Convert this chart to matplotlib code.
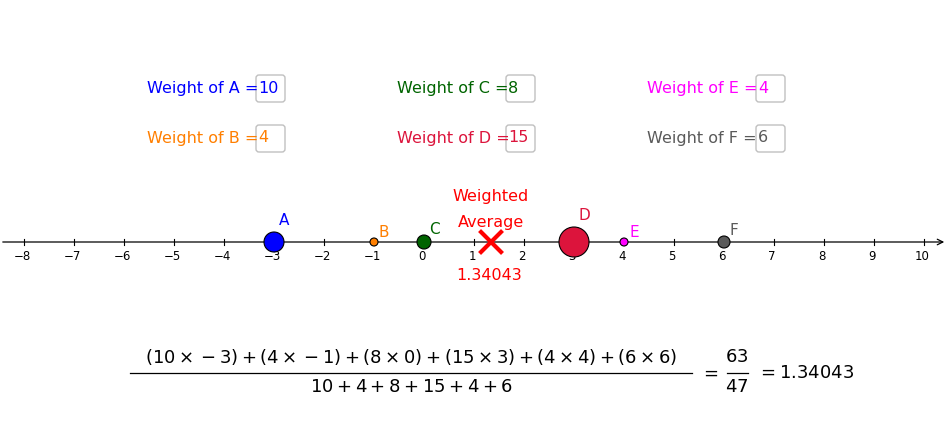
import matplotlib
matplotlib.use("Agg")
import matplotlib.pyplot as plt
from matplotlib.patches import FancyBboxPatch, Circle

names = ["A", "B", "C", "D", "E", "F"]
positions = [-3, -1, 0, 3, 4, 6]
weights = [10, 4, 8, 15, 4, 6]
colors = ["#0000FF", "#FF7F00", "#006400", "#DC143C", "#FF00FF", "#5A5A5A"]
radii = [10, 4, 7, 15, 4, 6]
ticks = list(range(-8, 11))

avg = sum(p * w for p, w in zip(positions, weights)) / sum(weights)

W, H = 950, 425
fig = plt.figure(figsize=(9.5, 4.25), dpi=100)
ax = fig.add_axes([0, 0, 1, 1])
ax.set_xlim(0, W); ax.set_ylim(H, 0); ax.axis("off")
fig.patch.set_facecolor("white")

X0, S, Y = 424, 50, 242
px = lambda v: X0 + S * v

# axis
ax.annotate("", xy=(947, Y), xytext=(0, Y),
            arrowprops=dict(arrowstyle="->", color="black", lw=0.9, mutation_scale=10))
for t in ticks:
    ax.plot([px(t), px(t)], [Y - 3, Y + 3], color="black", lw=0.8)
    lab = str(t).replace("-", "\u2212")
    ax.text(px(t) - 2, Y + 14, lab, ha="center", va="center", fontsize=8.5,
            family="DejaVu Sans", color="black")

# points
for n, p, c, r in zip(names, positions, colors, radii):
    ax.add_patch(Circle((px(p), Y), r, facecolor=c, edgecolor="black", lw=0.8, zorder=5))
    ax.text(px(p) + 10, Y - r - 10 - (6 if r > 8 else 0) + 4, n, ha="center", va="center",
            fontsize=11, color=c, family="DejaVu Sans")

# weighted average
xa = px(avg)
ax.plot([xa - 10, xa + 10], [Y - 10, Y + 10], color="red", lw=3, zorder=6)
ax.plot([xa - 10, xa + 10], [Y + 10, Y - 10], color="red", lw=3, zorder=6)
ax.text(491, 196, "Weighted", color="red", fontsize=11.5, ha="center", va="center")
ax.text(491, 222, "Average", color="red", fontsize=11.5, ha="center", va="center")
ax.text(489, 275, f"{avg:.5f}", color="red", fontsize=11.5, ha="center", va="center")

# weight input boxes
layout = [(147, 88), (147, 138), (397, 88), (397, 138), (647, 88), (647, 138)]
order = [0, 1, 2, 3, 4, 5]
for i, (x, y) in zip(order, layout):
    label = f"Weight of {names[i]} ="
    t = ax.text(x, y, label, color=colors[i], fontsize=11.5, ha="left", va="center")
    bx = x + 109
    ax.add_patch(FancyBboxPatch((bx, y - 13), 29, 27, boxstyle="round,pad=0,rounding_size=3",
                                facecolor="white", edgecolor="#C0C0C0", lw=1))
    ax.text(bx + 2, y, str(weights[i]), color=colors[i], fontsize=11.5, ha="left", va="center")

# formula
num = " + ".join(f"({w} \\times {'-' if p < 0 else ''}{abs(p)})".replace("-", "-") for w, p in zip(weights, positions))
den = " + ".join(str(w) for w in weights)
ax.text(411, 357, "$" + num + "$", fontsize=13, ha="center", va="center")
ax.plot([130, 692], [373, 373], color="black", lw=0.9)
ax.text(411, 387, "$" + den + "$", fontsize=13, ha="center", va="center")
ax.text(709, 373, "$=$", fontsize=13, ha="center", va="center")
tot = sum(p * w for p, w in zip(positions, weights))
ax.text(737, 357, f"${tot}$", fontsize=13, ha="center", va="center")
ax.plot([727, 748], [373, 373], color="black", lw=0.9)
ax.text(737, 387, f"${sum(weights)}$", fontsize=13, ha="center", va="center")
ax.text(757, 373, f"$= {avg:.5f}$", fontsize=13, ha="left", va="center")

fig.savefig("out.png", dpi=100, facecolor="white")
